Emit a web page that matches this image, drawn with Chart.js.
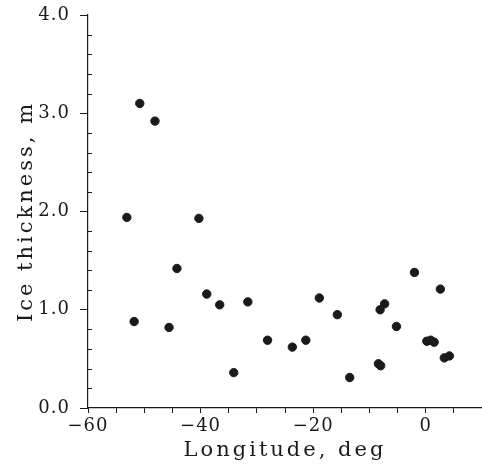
<!DOCTYPE html>
<html>
<head>
<meta charset="utf-8">
<script src="https://cdn.jsdelivr.net/npm/chart.js@4"></script>
<style>
  body { margin: 0; background: #fff; }
  #wrap { width: 482px; height: 470px; }
</style>
</head>
<body>
<div id="wrap"><canvas id="iceChart" width="482" height="470"></canvas></div>
<script>
// values
const longitude = [-53.1, -50.8, -48.1, -51.8, -45.6, -44.2, -40.3, -38.9, -36.6, -34.1,
                   -31.6, -28.1, -23.7, -21.3, -18.9, -15.7, -13.5, -8.4, -8.0, -8.1,
                   -7.3, -5.2, -2.0, 0.2, 0.9, 1.5, 2.6, 3.3, 4.2];
const thickness = [1.94, 3.10, 2.92, 0.88, 0.82, 1.42, 1.93, 1.16, 1.05, 0.36,
                   1.08, 0.69, 0.62, 0.69, 1.12, 0.95, 0.31, 0.45, 0.43, 1.00,
                   1.06, 0.83, 1.38, 0.68, 0.69, 0.67, 1.21, 0.51, 0.53];
const xLabelTicks = [-60, -40, -20, 0];
const yLabelTicks = [0, 1, 2, 3, 4];

const points = longitude.map((x, i) => ({ x: x, y: thickness[i] }));
const ink = '#1a1a1a';
const serif = 'DejaVu Serif';

function isOn(list, v) {
    return list.some(t => Math.abs(t - v) < 1e-6);
}

// wide letter spacing like the original typeface
const spacing = {
    id: 'spacing',
    beforeDraw(chart) {
        chart.ctx.letterSpacing = '1px';
        Object.values(chart.scales).forEach(s => {
            if (s._wideTitle) return;
            const orig = s.drawTitle;
            s.drawTitle = function () {
                this.ctx.letterSpacing = '3px';
                orig.call(this);
                this.ctx.letterSpacing = '1px';
            };
            s._wideTitle = true;
        });
    }
};

// small inward ticks on the y axis between the labelled ones
const minorTicks = {
    id: 'minorTicks',
    afterDraw(chart) {
        const y = chart.scales.y;
        const ctx = chart.ctx;
        ctx.save();
        ctx.strokeStyle = ink;
        ctx.lineWidth = 1;
        y.ticks.forEach(t => {
            if (isOn(yLabelTicks, t.value)) return;
            const py = Math.round(y.getPixelForValue(t.value)) + 0.5;
            ctx.beginPath();
            ctx.moveTo(y.right, py);
            ctx.lineTo(y.right + 4, py);
            ctx.stroke();
        });
        ctx.restore();
    }
};

new Chart(document.getElementById('iceChart'), {
    type: 'scatter',
    data: {
        datasets: [{
            data: points,
            backgroundColor: ink,
            borderColor: ink,
            pointRadius: 4.2,
            pointHoverRadius: 4.2,
            clip: false
        }]
    },
    options: {
        responsive: false,
        animation: false,
        layout: { autoPadding: false, padding: { top: 15, right: 0, bottom: 0, left: 0 } },
        plugins: { legend: { display: false }, tooltip: { enabled: false } },
        scales: {
            x: {
                type: 'linear',
                min: -60,
                max: 10,
                afterFit(scale) {
                    scale.height = 62;
                    scale.paddingLeft = 0;
                    scale.paddingRight = 0;
                },
                border: { display: true, color: ink, width: 1.2 },
                grid: {
                    drawOnChartArea: false,
                    tickLength: 5,
                    tickColor: ink
                },
                ticks: {
                    stepSize: 5,
                    autoSkip: false,
                    maxRotation: 0,
                    padding: 3,
                    color: ink,
                    font: { family: serif, size: 18 },
                    callback: v => isOn(xLabelTicks, v) ? String(v).replace('-', '\u2212') : ''
                },
                title: {
                    display: true,
                    text: 'Longitude, deg',
                    color: ink,
                    font: { family: serif, size: 21 },
                    padding: { top: 0, bottom: 7 }
                }
            },
            y: {
                min: 0,
                max: 4,
                afterFit(scale) {
                    scale.width = 88;
                    scale.paddingTop = 0;
                    scale.paddingBottom = 0;
                },
                border: { display: true, color: ink, width: 1.2 },
                grid: {
                    drawOnChartArea: false,
                    tickLength: 8,
                    tickColor: c => isOn(yLabelTicks, c.tick.value) ? ink : 'rgba(0,0,0,0)'
                },
                ticks: {
                    stepSize: 0.2,
                    autoSkip: false,
                    padding: 10,
                    color: ink,
                    font: { family: serif, size: 18 },
                    callback: v => isOn(yLabelTicks, v) ? v.toFixed(1) : ''
                },
                title: {
                    display: true,
                    text: 'Ice thickness, m',
                    color: ink,
                    font: { family: serif, size: 21 },
                    padding: { top: 14, bottom: 0 }
                }
            }
        }
    },
    plugins: [spacing, minorTicks]
});
</script>
</body>
</html>
